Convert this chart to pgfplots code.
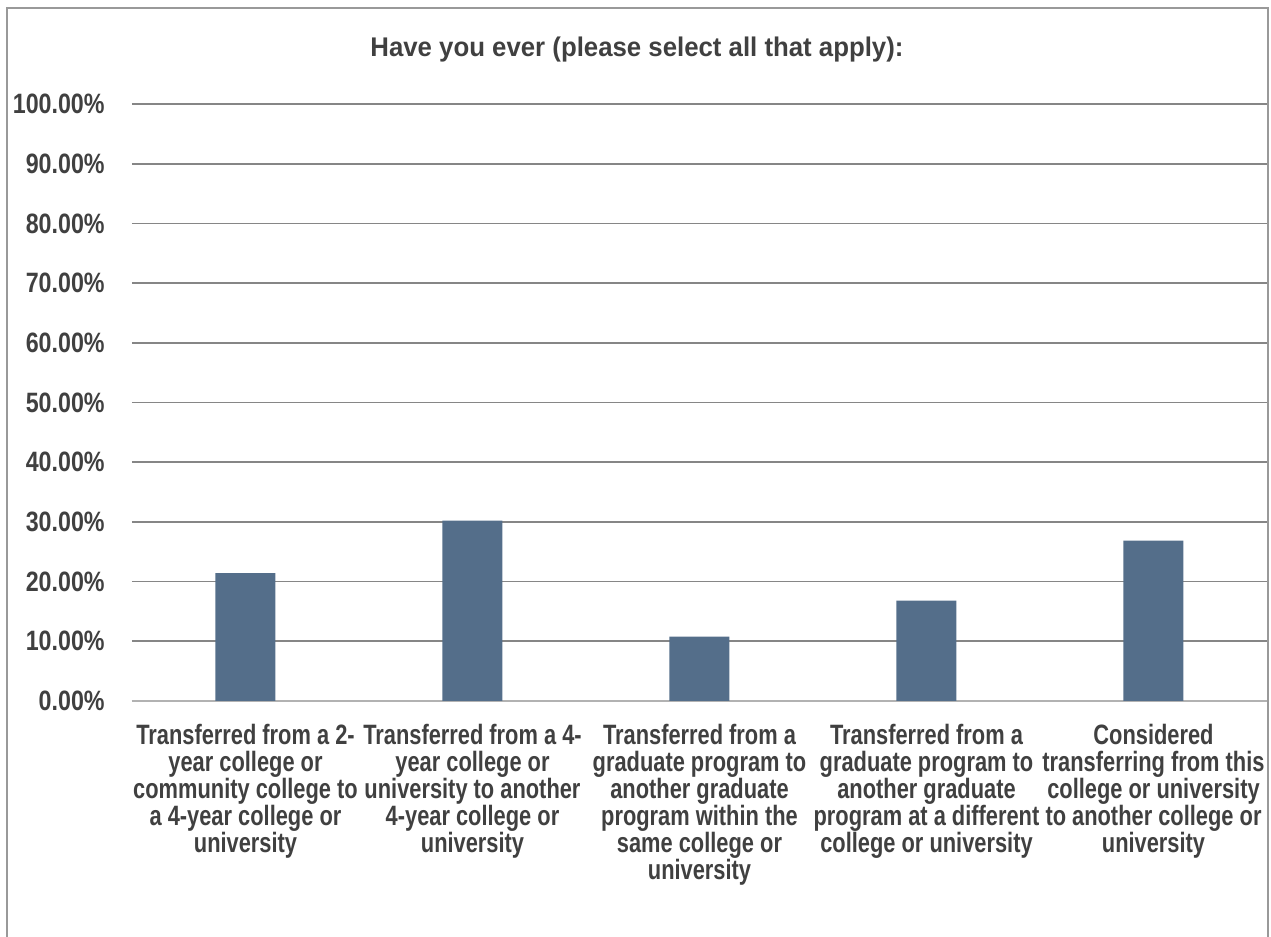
\documentclass[border=0pt]{standalone}
\usepackage{fontspec}
\usepackage{pgfplots}
\pgfplotsset{compat=1.18}
\setmainfont{Liberation Sans}
\newfontfamily\titlefont[FakeStretch=0.955]{Liberation Sans}
\newfontfamily\tickfont[FakeStretch=0.83]{Liberation Sans}
\newfontfamily\labfont[FakeStretch=0.78]{Liberation Sans}
\definecolor{barc}{HTML}{546E8A}
\definecolor{txt}{HTML}{404040}
\definecolor{gridc}{HTML}{868686}
\definecolor{framec}{HTML}{999999}
\begin{document}
\begin{tikzpicture}
\useasboundingbox (0,0) rectangle (635.5pt,468.5pt);
\draw[framec, line width=1pt] (3.4pt,-5pt) -- (3.4pt,464.4pt) -- (634pt,464.4pt) -- (634pt,-5pt);
\node[anchor=base, text=txt, inner sep=0pt] at (318.5pt,440.2pt) {\titlefont\bfseries\fontsize{13.5}{15}\selectfont Have you ever (please select all that apply):};
\begin{axis}[
  at={(66pt,118pt)}, anchor=south west,
  scale only axis, width=567.5pt, height=298.5pt,
  xmin=-0.5, xmax=4.5, ymin=0, ymax=100,
  axis x line*=bottom, axis y line*=left,
  x axis line style={draw=black!30, line width=1pt},
  y axis line style={draw=none},
  ybar, bar width=30pt,
  ytick={0,10,...,100},
  yticklabels={0.00\%,10.00\%,20.00\%,30.00\%,40.00\%,50.00\%,60.00\%,70.00\%,80.00\%,90.00\%,100.00\%},
  ymajorgrids, grid style={gridc, line width=0.85pt},
  major tick length=0pt,
  yticklabel style={anchor=east, inner sep=0pt, xshift=-13.5pt, text=txt, font=\tickfont\bfseries\fontsize{14}{16}\selectfont},
  xtick={0,1,2,3,4},
  xticklabels={
    {Transferred from a 2-\\year college or\\community college to\\a 4-year college or\\university},
    {Transferred from a 4-\\year college or\\university to another\\4-year college or\\university},
    {Transferred from a\\graduate program to\\another graduate\\program within the\\same college or\\university},
    {Transferred from a\\graduate program to\\another graduate\\program at a different\\college or university},
    {Considered\\transferring from this\\college or university\\to another college or\\university}},
  xticklabel style={anchor=north, align=center, inner sep=0pt, yshift=-11.5pt, text=txt, font=\labfont\bfseries\fontsize{14}{13.5}\selectfont},
]
\addplot[fill=barc, draw=none] coordinates {(0,21.4) (1,30.2) (2,10.8) (3,16.8) (4,26.85)};
\end{axis}
\end{tikzpicture}
\end{document}
